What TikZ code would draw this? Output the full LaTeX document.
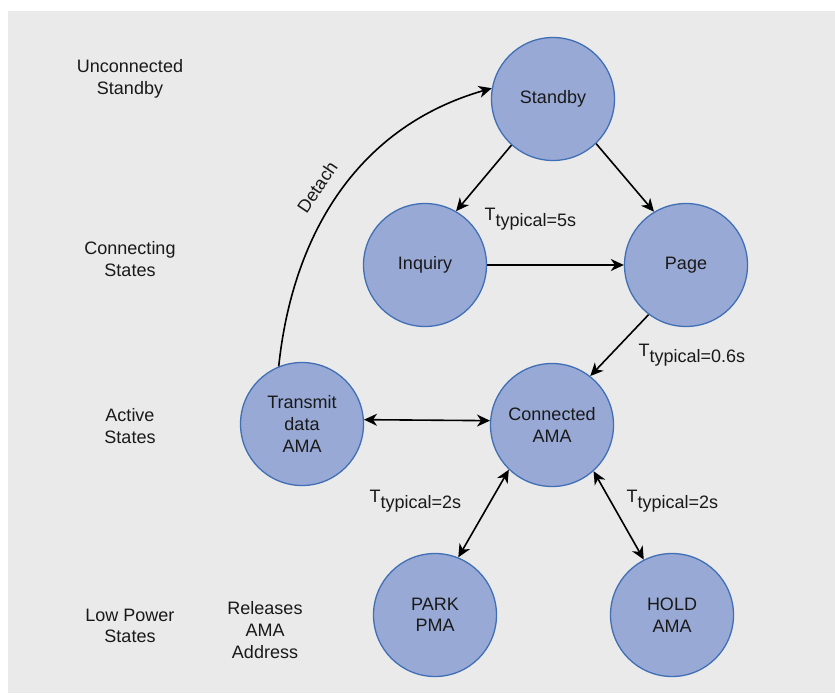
\documentclass[tikz,border=0pt]{standalone}
\usepackage{fontspec}
\setmainfont{Liberation Sans}
\usepackage{tikz}
\usetikzlibrary{positioning}
\usepgflibrary{arrows.meta}
\usepackage{xcolor}

\definecolor{bggray}{HTML}{EAEAEA}
\definecolor{statefill}{HTML}{98A9D5}
\definecolor{stateedge}{HTML}{416FB6}

\newcommand{\ttyp}[1]{T\raisebox{-6pt}{typical=#1}}

\begin{document}
\begin{tikzpicture}[x=1pt, y=-1pt,
    every node/.style={font=\fontsize{18}{21.6}\selectfont, text=black!90, align=center},
    state/.style={circle, draw=stateedge, line width=1.3pt, fill=statefill, minimum size=123pt, inner sep=0pt},
    trans/.style={line width=1.6pt, -{Stealth[length=13pt, width=12pt, inset=4pt]}},
    both/.style={line width=1.6pt, {Stealth[length=13pt, width=12pt, inset=4pt]}-{Stealth[length=13pt, width=12pt, inset=4pt]}}]
    \useasboundingbox (0, 0) rectangle (835, 695);
    \path[fill=bggray] (8, 11) rectangle (835, 693);

    % row labels
    \node (lunconn) at (130, 79) {Unconnected\\Standby};
    \node (lconn) at (130, 259) {Connecting\\States};
    \node (lactive) at (130, 426) {Active\\States};
    \node (llow) at (130, 626) {Low Power\\States};
    \node (lrelease) at (265, 630) {Releases\\AMA\\Address};

    % states
    \node[state] (standby) at (553, 99) {Standby};
    \node[state] (inquiry) at (425, 265) {Inquiry};
    \node[state] (page) at (686, 265) {Page};
    \node[state] (transmit) at (302, 424) {Transmit\\data\\AMA};
    \node[state] (connected) at (552, 425) {Connected\\AMA};
    \node[state] (park) at (435, 615) {PARK\\PMA};
    \node[state] (hold) at (672, 615) {HOLD\\AMA};

    % transitions
    \path[draw, trans] (standby.-132) -- (inquiry.60);
    \path[draw, trans] (standby.-46) -- (page.121);
    \path[draw, trans] (inquiry) -- (page);
    \path[draw, trans] (page.-127) -- (connected.52);
    \path[draw, both] (transmit.4) -- (connected.176);
    \path[draw, both] (connected.-134) -- (park.68);
    \path[draw, both] (connected.-48) -- (hold.117);
    \path[draw, trans] (transmit.112) to[out=84, in=196] node[pos=0.47, sloped, above=11pt] (detach) {Detach} (standby.170);

    % timing labels
    \node[anchor=west] (t5) at (481, 219) {\ttyp{5s}};
    \node[anchor=west] (t06) at (635, 355) {\ttyp{0.6s}};
    \node[anchor=west] (t2a) at (366, 501) {\ttyp{2s}};
    \node[anchor=west] (t2b) at (623, 501) {\ttyp{2s}};
\end{tikzpicture}
\end{document}
